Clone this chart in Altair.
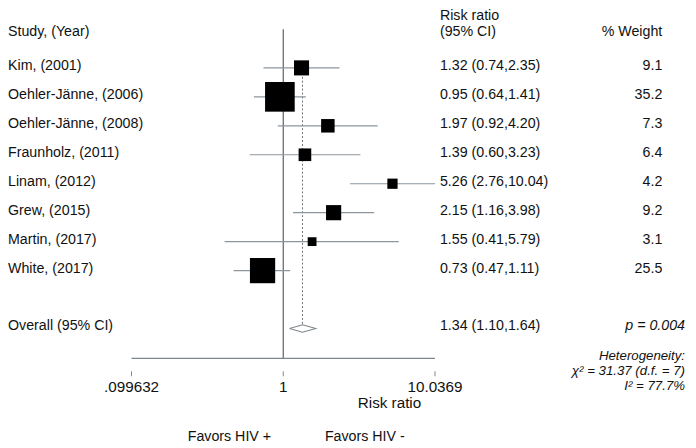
import altair as alt
import pandas as pd

# ---- data ----
studies = ["Kim, (2001)", "Oehler-Jänne, (2006)", "Oehler-Jänne, (2008)", "Fraunholz, (2011)",
           "Linam, (2012)", "Grew, (2015)", "Martin, (2017)", "White, (2017)"]
rr = [1.32, 0.95, 1.97, 1.39, 5.26, 2.15, 1.55, 0.73]
ci_lo = [0.74, 0.64, 0.92, 0.60, 2.76, 1.16, 0.41, 0.47]
ci_hi = [2.35, 1.41, 4.20, 3.23, 10.04, 3.98, 5.79, 1.11]
weights = [9.1, 35.2, 7.3, 6.4, 4.2, 9.2, 3.1, 25.5]
overall_label = "Overall (95% CI)"
overall = [1.34]
overall_lo = [1.10]
overall_hi = [1.64]
p_text = "p = 0.004"
het_lines = ["Heterogeneity:", "χ² =  31.37 (d.f. = 7)", "I² = 77.7%"]
x_ticks = [0.099632, 1, 10.0369]
x_tick_labels = [".099632", "1", "10.0369"]
x_title = "Risk ratio"
favors = ["Favors HIV +", "Favors HIV -"]

FONT = "Liberation Sans"
W, H = 688, 440
OVERALL_ROW = 9
AXIS_Y = 352
AXIS_COLOR = "#7d868c"

rows = list(range(len(studies)))
df = pd.DataFrame({"study": studies, "rr": rr, "lo": ci_lo, "hi": ci_hi, "w": weights, "row": rows})
df["rr_txt"] = [f"{a:.2f} ({b:.2f},{c:.2f})" for a, b, c in zip(rr, ci_lo, ci_hi)]
df["w_txt"] = [f"{w:.1f}" for w in weights]

ov = pd.DataFrame({"rr": overall, "lo": overall_lo, "hi": overall_hi, "row": [OVERALL_ROW]})
ov["rr_txt"] = [f"{a:.2f} ({b:.2f},{c:.2f})" for a, b, c in zip(overall, overall_lo, overall_hi)]
ov["label"] = [overall_label]

# diamond outline built from the overall estimate and its CI
dh = 0.13
diamond = pd.DataFrame({
    "x": [overall_lo[0], overall[0], overall_hi[0], overall[0], overall_lo[0]],
    "row": [OVERALL_ROW, OVERALL_ROW - dh, OVERALL_ROW, OVERALL_ROW + dh, OVERALL_ROW],
    "k": [0, 1, 2, 3, 4],
})

xscale = alt.Scale(type="log", domain=[x_ticks[0], x_ticks[-1]], range=[125, 432], nice=False)
yscale = alt.Scale(domain=[0, OVERALL_ROW], range=[58, 321.7], nice=False, zero=False)


def X(field):
    return alt.X(field, type="quantitative", scale=xscale, axis=None)


def Y(field="row"):
    return alt.Y(field, type="quantitative", scale=yscale, axis=None)


# null line at 1
null_line = alt.Chart(pd.DataFrame({"x": [1]})).mark_rule(color="#5c6166", strokeWidth=1.2).encode(
    x=X("x"), y=alt.value(19), y2=alt.value(AXIS_Y))

# dashed line at overall estimate
ov_line = alt.Chart(ov).mark_rule(color="#6b7075", strokeDash=[2, 2], strokeWidth=1).encode(
    x=X("rr"), y=alt.value(59), y2=alt.value(318))

ci = alt.Chart(df).mark_rule(color="#8c969d", strokeWidth=1.2).encode(
    x=X("lo"), x2="hi", y=Y())

boxes = alt.Chart(df).mark_square(color="black", opacity=1, filled=True).encode(
    x=X("rr"), y=Y(),
    size=alt.Size("w:Q", scale=alt.Scale(domain=[0, 35.2], range=[0, 900], zero=True), legend=None))

dia = alt.Chart(diamond).mark_line(color=AXIS_COLOR, strokeWidth=1.1).encode(
    x=X("x"), y=Y(), order="k:Q")

# x axis (Stata style): domain line, detached ticks, labels, title
tick_df = pd.DataFrame({"x": x_ticks, "lab": x_tick_labels})
axis_line = alt.Chart(pd.DataFrame({"a": [x_ticks[0]], "b": [x_ticks[-1]]})).mark_rule(
    color=AXIS_COLOR, strokeWidth=1.2).encode(x=X("a"), x2="b", y=alt.value(AXIS_Y))
ticks = alt.Chart(tick_df).mark_rule(color=AXIS_COLOR, strokeWidth=1).encode(
    x=X("x"), y=alt.value(365), y2=alt.value(370))
tick_labels = alt.Chart(tick_df).mark_text(
    align="center", baseline="middle", font=FONT, fontSize=15.4, color="#111").encode(
    x=X("x"), y=alt.value(381), text="lab:N")


def txt(data, field, x, align="left", size=14.4, italic=False, dy=-2):
    return alt.Chart(data).mark_text(
        align=align, baseline="middle", font=FONT, fontSize=size, color="#111", dy=dy,
        fontStyle="italic" if italic else "normal"
    ).encode(x=alt.value(x), y=Y(), text=field + ":N")


study_txt = txt(df, "study", 0)
rr_txt = txt(df, "rr_txt", 437)
w_txt = txt(df, "w_txt", 662, align="right")
ov_lab = txt(ov, "label", 0)
ov_rr = txt(ov, "rr_txt", 437)
p_df = pd.DataFrame({"row": [OVERALL_ROW], "t": [p_text]})
p_txt = txt(p_df, "t", 685, align="right", italic=True)


def fixed_text(text, x, y, align="left", size=14.4, italic=False):
    return alt.Chart(pd.DataFrame({"t": [text]})).mark_text(
        align=align, baseline="middle", font=FONT, fontSize=size, color="#111",
        fontStyle="italic" if italic else "normal"
    ).encode(x=alt.value(x), y=alt.value(y), text="t:N")


headers = [
    fixed_text("Study, (Year)", 0, 22),
    fixed_text("Risk ratio", 437, 6),
    fixed_text("(95% CI)", 437, 22),
    fixed_text("% Weight", 662, 22, align="right"),
]
het = [fixed_text(t, 685, y, align="right", size=13.4, italic=True)
       for t, y in zip(het_lines, [350, 364.5, 379.5])]
axis_title = fixed_text(x_title, 386, 397, align="center", size=15.4)
fav = [fixed_text(favors[0], 224, 432, align="center"),
       fixed_text(favors[1], 361, 432, align="center")]

chart = alt.layer(
    null_line, ov_line, ci, boxes, dia, axis_line, ticks, tick_labels,
    study_txt, rr_txt, w_txt, ov_lab, ov_rr, p_txt,
    *headers, *het, axis_title, *fav
).properties(
    width=W, height=H, padding=0, autosize=alt.AutoSizeParams(type="none")
).configure(font=FONT, view=alt.ViewConfig(stroke=None))

chart.save("out.html", embed_options={"renderer": "svg", "actions": False})
